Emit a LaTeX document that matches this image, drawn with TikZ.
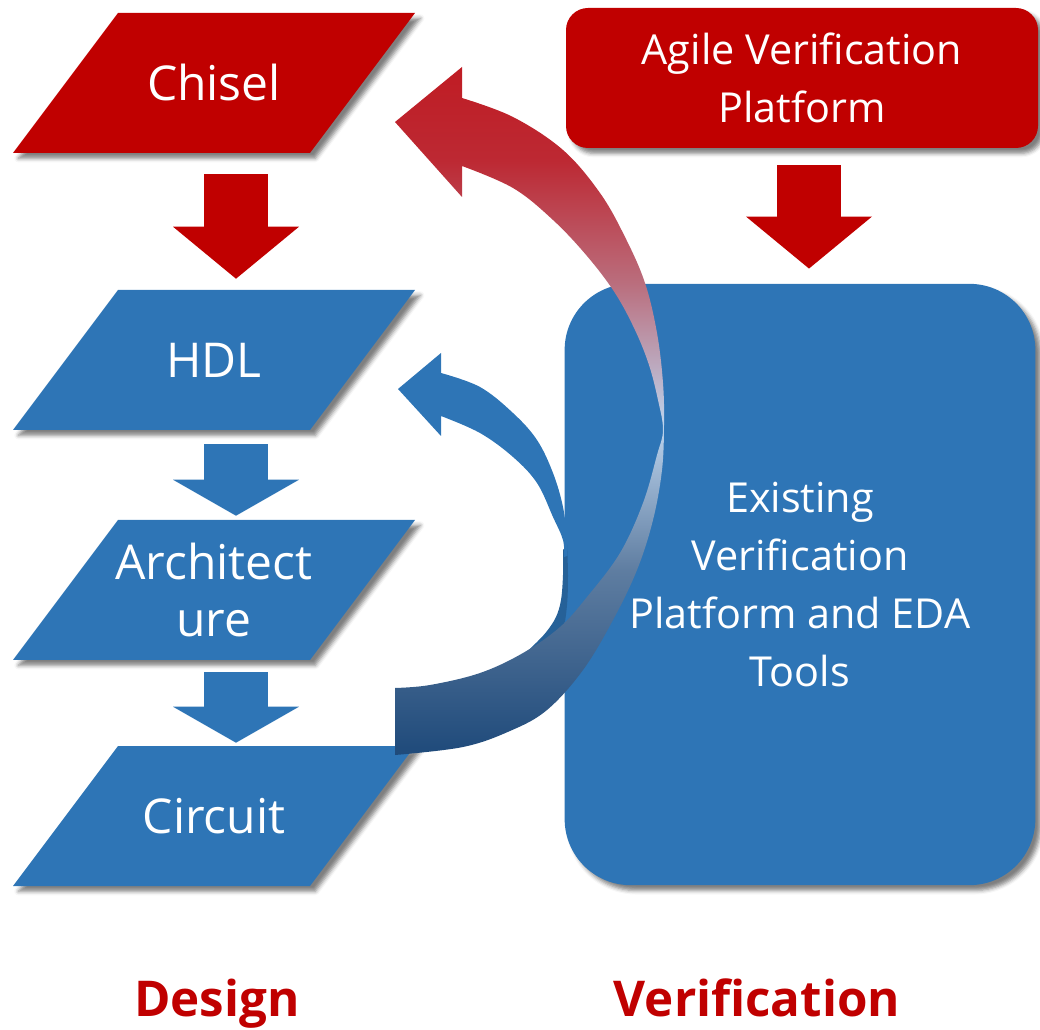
\documentclass[tikz,border=0pt]{standalone}
\usepackage{fontspec}
\setmainfont{Open Sans}
\usetikzlibrary{arrows.meta,calc,shadows.blur}

\definecolor{boxred}{RGB}{192,0,0}
\definecolor{boxblue}{RGB}{46,117,182}
\definecolor{backblue}{RGB}{38,97,152}

% red-to-light-to-navy fill of the large feedback loop
\pgfdeclareverticalshading{loopshade}{100bp}{%
  rgb(0bp)=(0.12,0.29,0.48);
  rgb(25bp)=(0.12,0.29,0.48);
  rgb(38.4bp)=(0.37,0.49,0.63);
  rgb(49bp)=(0.74,0.83,0.93);
  rgb(59.3bp)=(0.73,0.43,0.49);
  rgb(68.2bp)=(0.74,0.16,0.20);
  rgb(75bp)=(0.75,0.11,0.14);
  rgb(100bp)=(0.75,0.11,0.14)}

\tikzset{
  softshadow/.style={blur shadow={shadow xshift=4pt, shadow yshift=-4pt,
      shadow blur radius=3pt, shadow opacity=50}},
  slanttext/.style={text=white, font=\fontsize{36}{43}\selectfont, align=center,
      minimum width=301.5pt, minimum height=105pt, inner sep=0pt},
  platebox/.style={text=white, font=\fontsize{31}{43.5}\selectfont, align=center,
      inner sep=0pt, softshadow},
  flowred/.style={draw=boxred, line width=48pt,
      -{Triangle[width=94.5pt, length=39pt, line width=0pt]}},
  flowblue/.style={draw=boxblue, line width=48pt,
      -{Triangle[width=94.5pt, length=27pt, line width=0pt]}},
  caption/.style={text=boxred, font=\fontsize{37}{44}\selectfont\bfseries, anchor=base}
}

% slanted box: #1 name, #2 centre, #3 fill colour, #4 text
\newcommand\slantbox[4]{%
  \fill[#3, softshadow] ($#2+(-96,-70)$) -- ($#2+(201,-70)$)
      -- ($#2+(96,70)$) -- ($#2+(-201,70)$) -- cycle;
  \node[slanttext] (#1) at #2 {#4};
}

\begin{document}
\begin{tikzpicture}[x=0.75pt, y=-0.75pt]
\useasboundingbox (0,0) rectangle (1040,1030);

% design flow
\slantbox{chisel}{(214,83)}{boxred}{Chisel}
\slantbox{hdl}{(214,360)}{boxblue}{HDL}
\slantbox{arch}{(214,590)}{boxblue}{Architect\\ure}
\slantbox{circuit}{(214,816)}{boxblue}{Circuit}

% verification side
\node[platebox, fill=boxred, rounded corners=16.5pt,
      minimum width=354pt, minimum height=105pt] (agile) at (802,78)
      {Agile Verification\\Platform};
\node[platebox, fill=boxblue, rounded corners=49.5pt,
      minimum width=353pt, minimum height=451pt] (tools) at (800,584.5)
      {Existing\\Verification\\Platform and EDA\\Tools};

% straight flow arrows
\draw[flowred]  ([shift={(22,21)}]chisel.south) -- ([shift={(22,-11)}]hdl.north);
\draw[flowblue] ([shift={(22,14)}]hdl.south)    -- ([shift={(22,-4)}]arch.north);
\draw[flowblue] ([shift={(22,12)}]arch.south)   -- ([shift={(22,-3)}]circuit.north);
\draw[flowred]  ([shift={(7,17)}]agile.south)   -- ([shift={(9,-15)}]tools.north);

% blue loop back to HDL: hidden back part, then front part with head
\fill[backblue]
  plot[smooth, tension=0.6] coordinates {(567,545) (568,575) (567,605) (563,630)
      (553,655) (535,680) (515,695)}
  -- plot[smooth, tension=0.6] coordinates {(505,668) (523,655) (537,642) (547,631)
      (556,617) (561,600) (563,575) (563,550)}
  -- cycle;
\fill[boxblue]
  (398,389) -- (441,353) -- (441,373)
  -- plot[smooth, tension=0.6] coordinates {(441,373) (480,387) (513,413) (537,440)
      (553,473) (563,507) (567,540) (567,556)}
  -- plot[smooth, tension=0.6] coordinates {(564,557) (563,540) (553,517) (537,483)
      (513,457) (480,433) (441,416)}
  -- (441,436) -- cycle;

% large loop back to Chisel
\shade[shading=loopshade]
  (395,122) -- (462,67) -- (462,98)
  -- plot[smooth, tension=0.6] coordinates {(462,98) (513,117) (563,150) (600,193)
      (625,237) (645,283) (657,333) (663,383) (664,425) (662,470) (653,520)
      (637,570) (613,620) (583,670) (547,710) (510,731) (463,747) (395,755)}
  -- (395,688)
  -- plot[smooth, tension=0.6] coordinates {(395,688) (430,685) (480,673) (523,653)
      (560,627) (587,597) (620,553) (643,503) (657,455) (663,430) (658,400)
      (649,365) (635,330) (615,293) (587,256) (553,220) (513,188) (462,166)}
  -- (462,197) -- cycle;

% column captions
\node[caption] (design) at (217,1016) {Design};
\node[caption] (verification) at (757,1016) {Verification};
\end{tikzpicture}
\end{document}
